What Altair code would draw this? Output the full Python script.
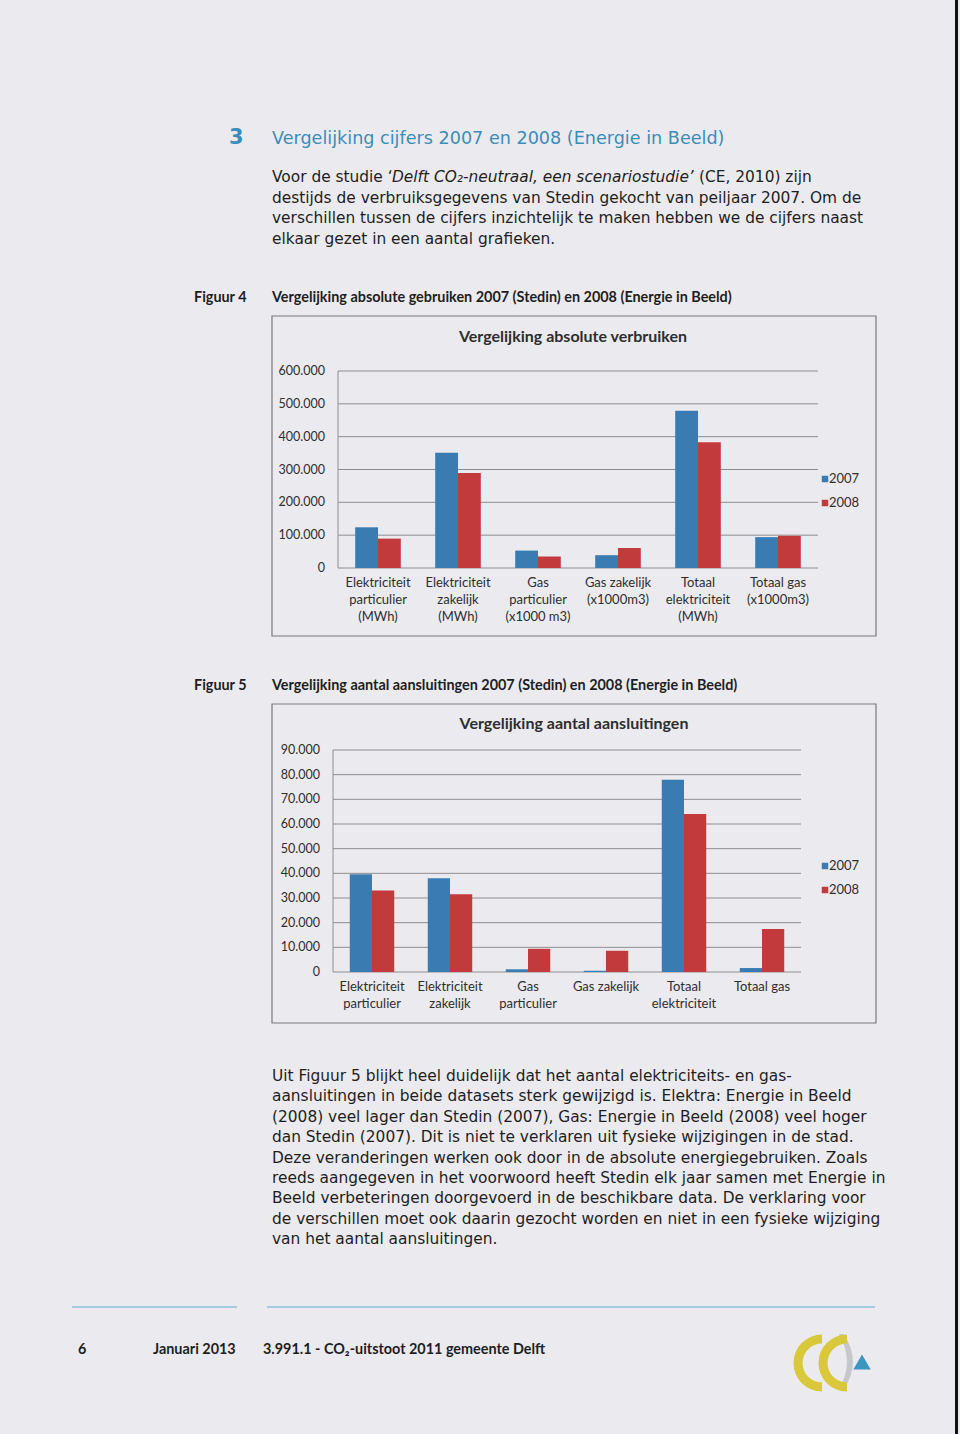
import math
import altair as alt
import pandas as pd

# ---------------- data ----------------
years = ["2007", "2008"]

cats1 = ["Elek part", "Elek zak", "Gas part", "Gas zak", "Tot elek", "Tot gas"]
labels1 = ["Elektriciteit\nparticulier\n(MWh)", "Elektriciteit\nzakelijk\n(MWh)",
           "Gas\nparticulier\n(x1000 m3)", "Gas zakelijk\n(x1000m3)",
           "Totaal\nelektriciteit\n(MWh)", "Totaal gas\n(x1000m3)"]
verbruik_2007 = [124000, 351000, 53000, 39000, 479000, 94000]
verbruik_2008 = [89500, 289000, 35000, 61000, 383000, 98000]
ticks1 = [0, 100000, 200000, 300000, 400000, 500000, 600000]
ticklabels1 = ["0", "100.000", "200.000", "300.000", "400.000", "500.000", "600.000"]

cats2 = ["Elek part", "Elek zak", "Gas part", "Gas zak", "Tot elek", "Tot gas"]
labels2 = ["Elektriciteit\nparticulier", "Elektriciteit\nzakelijk", "Gas\nparticulier",
           "Gas zakelijk", "Totaal\nelektriciteit", "Totaal gas"]
aansl_2007 = [39600, 38000, 1100, 500, 77900, 1600]
aansl_2008 = [33000, 31500, 9400, 8600, 64100, 17400]
ticks2 = [0, 10000, 20000, 30000, 40000, 50000, 60000, 70000, 80000, 90000]
ticklabels2 = ["0", "10.000", "20.000", "30.000", "40.000", "50.000", "60.000",
               "70.000", "80.000", "90.000"]

heading = "Vergelijking cijfers 2007 en 2008 (Energie in Beeld)"
intro_a = "Voor de studie \u2018"
intro_b = "Delft CO\u2082-neutraal, een scenariostudie\u2019"
intro_c = "(CE, 2010) zijn"
intro_rest = ["destijds de verbruiksgegevens van Stedin gekocht van peiljaar 2007. Om de",
              "verschillen tussen de cijfers inzichtelijk te maken hebben we de cijfers naast",
              "elkaar gezet in een aantal grafieken."]
fig4_caption = "Vergelijking absolute gebruiken 2007 (Stedin) en 2008 (Energie in Beeld)"
fig5_caption = "Vergelijking aantal aansluitingen 2007 (Stedin) en 2008 (Energie in Beeld)"
title1 = "Vergelijking absolute verbruiken"
title2 = "Vergelijking aantal aansluitingen"
outro = ["Uit Figuur 5 blijkt heel duidelijk dat het aantal elektriciteits- en gas-",
         "aansluitingen in beide datasets sterk gewijzigd is. Elektra: Energie in Beeld",
         "(2008) veel lager dan Stedin (2007), Gas: Energie in Beeld (2008) veel hoger",
         "dan Stedin (2007). Dit is niet te verklaren uit fysieke wijzigingen in de stad.",
         "Deze veranderingen werken ook door in de absolute energiegebruiken. Zoals",
         "reeds aangegeven in het voorwoord heeft Stedin elk jaar samen met Energie in",
         "Beeld verbeteringen doorgevoerd in de beschikbare data. De verklaring voor",
         "de verschillen moet ook daarin gezocht worden en niet in een fysieke wijziging",
         "van het aantal aansluitingen."]
footer_page = "6"
footer_date = "Januari 2013"
footer_doc = "3.991.1 - CO\u2082-uitstoot 2011 gemeente Delft"

# ---------------- styles ----------------
BG = "#ebeaef"
BLUE = "#3a7cb2"
RED = "#c23a3c"
HEAD = "#3b8dba"
INK = "#1e1e1e"
CHARTINK = "#2e2e2e"
GRID = "#8e8e8e"
BODY = "DejaVu Sans"
CFONT = "Lato"
BODYSIZE = 15.4

one = alt.Data(values=[{"a": 1}])


def txt(s, x, y, size=14, font=BODY, color=INK, weight="normal", style="normal",
        align="left", baseline="middle", lh=None):
    kw = dict(fontSize=size, font=font, color=color, fontWeight=weight,
              fontStyle=style, align=align, baseline=baseline)
    if lh is not None:
        kw["lineBreak"] = "\n"
        kw["lineHeight"] = lh
    return alt.Chart(one).mark_text(**kw).encode(
        x=alt.value(x), y=alt.value(y), text=alt.value(s))


def rect(x1, x2, y1, y2, stroke="#7a7a7a", fill=BG, sw=1.2):
    return alt.Chart(one).mark_rect(fill=fill, stroke=stroke, strokeWidth=sw).encode(
        x=alt.value(x1), x2=alt.value(x2), y=alt.value(y1), y2=alt.value(y2))


def hline(x1, x2, y, color, sw=1.0):
    return alt.Chart(one).mark_rule(color=color, strokeWidth=sw).encode(
        x=alt.value(x1), x2=alt.value(x2), y=alt.value(y))


def vline(x, y1, y2, color, sw=1.0):
    return alt.Chart(one).mark_rule(color=color, strokeWidth=sw).encode(
        x=alt.value(x), y=alt.value(y1), y2=alt.value(y2))


def arc(cx, cy, r_out, r_in, t1, t2, color):
    return alt.Chart(one).mark_arc(radius=r_out, radius2=r_in, theta=t1, theta2=t2,
                                   color=color).encode(
        x=alt.value(cx), y=alt.value(cy))


def legend(x, y1, y2):
    parts = []
    for yy, col, lab in [(y1, BLUE, "2007"), (y2, RED, "2008")]:
        parts.append(alt.Chart(one).mark_square(color=col, opacity=1, size=42).encode(
            x=alt.value(x), y=alt.value(yy)))
        parts.append(txt(lab, x + 4, yy, size=13, font=CFONT, color=CHARTINK))
    return parts


def barchart(cats, labels, v07, v08, ticks, ticklabels, xr, yr, label_y):
    df = pd.DataFrame({
        "cat": cats * 2,
        "year": [years[0]] * len(cats) + [years[1]] * len(cats),
        "value": list(v07) + list(v08),
    })
    tdf = pd.DataFrame({"t": ticks, "lab": ticklabels})
    cdf = pd.DataFrame({"cat": cats, "label": labels})
    xs = alt.Scale(domain=cats, range=xr, paddingInner=0.43, paddingOuter=0.215)
    ys = alt.Scale(domain=[ticks[0], ticks[-1]], range=yr, nice=False)
    grid = alt.Chart(tdf).mark_rule(color=GRID, strokeWidth=1).encode(
        y=alt.Y("t:Q", scale=ys, axis=None),
        x=alt.value(xr[0]), x2=alt.value(xr[1]))
    yaxis = alt.Chart(tdf).mark_rule(color=GRID, strokeWidth=1).encode(
        y=alt.Y("min(t):Q", scale=ys, axis=None),
        y2=alt.Y2("max(t):Q"),
        x=alt.value(xr[0]))
    bars = alt.Chart(df).mark_bar().encode(
        x=alt.X("cat:N", scale=xs, axis=None, sort=cats),
        xOffset=alt.XOffset("year:N", scale=alt.Scale(domain=years, paddingInner=0)),
        y=alt.Y("value:Q", scale=ys, axis=None),
        color=alt.Color("year:N", scale=alt.Scale(domain=years, range=[BLUE, RED]),
                        legend=None))
    tl = alt.Chart(tdf).mark_text(align="right", baseline="middle", font=CFONT,
                                  fontSize=12.5, color=CHARTINK).encode(
        y=alt.Y("t:Q", scale=ys, axis=None), text="lab:N", x=alt.value(xr[0] - 13))
    cl = alt.Chart(cdf).mark_text(align="center", baseline="top", font=CFONT,
                                  fontSize=13, color=CHARTINK, lineBreak="\n",
                                  lineHeight=17).encode(
        x=alt.X("cat:N", scale=xs, axis=None, sort=cats), text="label:N",
        y=alt.value(label_y))
    return alt.layer(grid, yaxis, bars, tl, cl)


chart1 = barchart(cats1, labels1, verbruik_2007, verbruik_2008, ticks1, ticklabels1,
                  [338, 818], [568, 371], 577)
chart2 = barchart(cats2, labels2, aansl_2007, aansl_2008, ticks2, ticklabels2,
                  [333, 801], [972, 750], 981)

PI = math.pi
layers = [
    vline(956.5, 0, 1434, "#111111", sw=3),
    txt("3", 229, 138, size=21, color=HEAD, weight="bold"),
    txt(heading, 272, 139, size=17.6, color=HEAD),
    txt(intro_a, 272, 177, size=BODYSIZE),
    txt(intro_b, 392, 177, size=BODYSIZE, style="italic"),
    txt(intro_c, 699, 177, size=BODYSIZE),
    txt("\n".join(intro_rest), 272, 197.5, size=BODYSIZE, lh=20.7),
    txt("Figuur 4", 194, 298, size=14.4, font=CFONT, weight="bold"),
    txt(fig4_caption, 272, 298, size=14.4, font=CFONT, weight="bold"),
    rect(272, 876, 316, 636),
    txt(title1, 573, 337, size=16, font=CFONT, weight="bold", color=CHARTINK,
        align="center"),
    chart1,
    *legend(825, 479, 503),
    txt("Figuur 5", 194, 686, size=14.4, font=CFONT, weight="bold"),
    txt(fig5_caption, 272, 686, size=14.4, font=CFONT, weight="bold"),
    rect(272, 876, 704, 1023),
    txt(title2, 574, 724, size=16, font=CFONT, weight="bold", color=CHARTINK,
        align="center"),
    chart2,
    *legend(825, 866, 890),
    txt("\n".join(outro), 272, 1076, size=BODYSIZE, lh=20.4),
    hline(72, 237, 1307, "#8fc0dc", sw=1.5),
    hline(267, 875, 1307, "#8fc0dc", sw=1.5),
    txt(footer_page, 78, 1350, size=14.4, font=CFONT, weight="bold"),
    txt(footer_date, 153, 1350, size=14.4, font=CFONT, weight="bold"),
    txt(footer_doc, 263, 1350, size=14.4, font=CFONT, weight="bold"),
    # logo
    txt(")", 846, 1362, size=62, font="DejaVu Sans", color="#c5c7ca", align="center"),
    arc(822, 1363, 28.5, 19.5, PI, 2 * PI, "#d8c83a"),
    arc(847, 1363, 28.5, 19.5, PI, 2 * PI, "#d8c83a"),
    alt.Chart(one).mark_point(shape="triangle-up", filled=True, color="#3d95c2",
                              opacity=1, size=300).encode(
        x=alt.value(862), y=alt.value(1362)),
]

chart = alt.layer(*layers).resolve_scale(
    x="independent", y="independent", xOffset="independent"
).properties(
    width=960, height=1434, autosize=alt.AutoSizeParams(type="none"),
    padding=0, background=BG
).configure_view(stroke=None)

chart.save("out.html", embed_options={"renderer": "svg", "actions": False})
